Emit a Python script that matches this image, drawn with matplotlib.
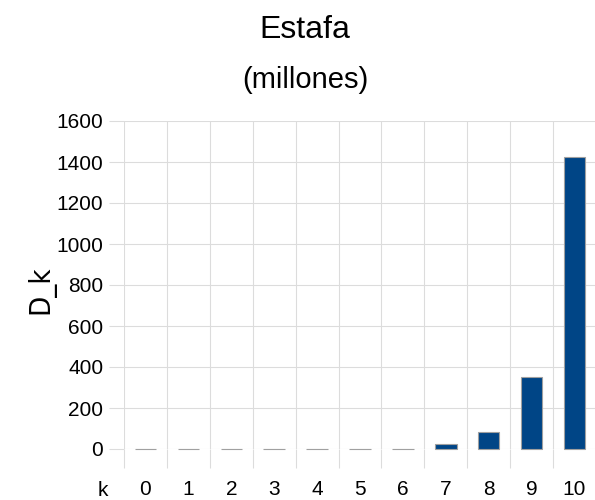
import numpy as np
import matplotlib.pyplot as plt

# D_k por categoria k (millones)
k_vals = list(range(11))
d_k = [1, 1, 1, 1, 1, 1, 1, 22, 82, 350, 1425]
y_ticks = [0, 200, 400, 600, 800, 1000, 1200, 1400, 1600]

bar_color = '#004586'
grid_color = '#dcdcdc'

plt.rcParams['font.family'] = ['Liberation Sans', 'DejaVu Sans']

fig = plt.figure(figsize=(5.95, 5.0), dpi=100)
ax = fig.add_axes([124 / 595, 1 - 449 / 500, 472 / 595, (449 - 121) / 500])

x = np.arange(len(k_vals))
bars = ax.bar(x, d_k, width=0.5, color=bar_color, edgecolor='#a0a0a0', linewidth=0.8, zorder=3)
for b in bars:
    b.set_clip_on(False)

ax.set_xlim(-0.5, len(k_vals) - 0.5)
ax.set_ylim(0, 1600)
ax.set_yticks(y_ticks)
ax.set_xticks(x)
ax.set_xticklabels([str(k) for k in k_vals])
ax.set_xticks(np.append(x - 0.5, x[-1] + 0.5), minor=True)

ax.grid(axis='y', color=grid_color, linewidth=0.8, zorder=0)
ax.grid(axis='x', which='minor', color=grid_color, linewidth=0.8, zorder=0)
ax.tick_params(axis='y', length=11, color=grid_color, width=0.8, labelsize=15, pad=4)
ax.tick_params(axis='x', which='major', length=0, labelsize=15, pad=22)
ax.tick_params(axis='x', which='minor', length=14, color=grid_color, width=0.8)
for s in ax.spines.values():
    s.set_visible(False)

fig.text(0.513, 0.94, 'Estafa', ha='center', va='center', fontsize=23)
fig.text(0.514, 0.84, '(millones)', ha='center', va='center', fontsize=21)
fig.text(0.068, 0.42, 'D_k', rotation=90, ha='center', va='center', fontsize=21,
         family='DejaVu Sans', stretch='condensed')
fig.text(0.173, 0.02, 'k', ha='center', va='center', fontsize=15)

fig.savefig('out.png', dpi=100)
